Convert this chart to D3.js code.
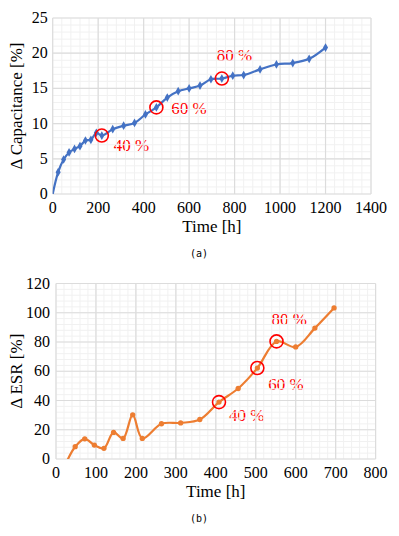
<!DOCTYPE html>
<meta charset="utf-8">
<body style="margin:0">
<script src="https://cdn.jsdelivr.net/npm/d3@7"></script>
<script>

// (a) capacitance change over time
var capTime = [0, 24, 48, 72, 96, 120, 144, 168, 192, 216, 264, 312, 360, 408, 456, 504, 552, 600, 648, 696, 744, 792, 840, 912, 984, 1056, 1128, 1200];
var capValue = [0, 3.1, 4.9, 5.9, 6.4, 6.8, 7.6, 7.7, 8.7, 8.3, 9.2, 9.7, 10.1, 11.3, 12.3, 13.7, 14.6, 15.0, 15.4, 16.3, 16.4, 16.8, 16.9, 17.7, 18.4, 18.6, 19.2, 20.8];
var capMarks = [{t: 216, label: "40 %"}, {t: 456, label: "60 %"}, {t: 744, label: "80 %"}];

// (b) ESR change over time
var esrTime = [24, 48, 72, 96, 120, 144, 168, 192, 216, 264, 312, 360, 408, 456, 504, 552, 600, 648, 696];
var esrValue = [-3.5, 8.4, 13.8, 9.5, 7.3, 18.2, 14.1, 30.2, 14.1, 24.1, 24.7, 27.0, 38.9, 48.2, 62.2, 80.4, 76.6, 89.5, 103.3];
var esrMarks = [{t: 408, label: "40 %"}, {t: 504, label: "60 %"}, {t: 552, label: "80 %"}];

var svg = d3.select("body")
  .append("svg")
    .attr("width", 399)
    .attr("height", 536);

// text layer first, marks layer after
var textLayer = svg.append("g");
var markLayer = svg.append("g");

function drawPanel(opt) {
  var x = d3.scaleLinear().domain(opt.xDomain).range(opt.xRange);
  var y = d3.scaleLinear().domain(opt.yDomain).range(opt.yRange);
  var xTicks = d3.range(opt.xDomain[0], opt.xDomain[1] + 0.001, opt.xStep);
  var yTicks = d3.range(opt.yDomain[0], opt.yDomain[1] + 0.001, opt.yStep);

  // tick labels
  textLayer.selectAll(null).data(xTicks).enter().append("text")
    .attr("x", d => x(d)).attr("y", y.range()[0] + 19)
    .attr("text-anchor", "middle")
    .style("font-family", "Liberation Serif").style("font-size", "16px")
    .text(d => d);
  textLayer.selectAll(null).data(yTicks).enter().append("text")
    .attr("x", x.range()[0] - opt.yPad).attr("y", d => y(d) + 5)
    .attr("text-anchor", "end")
    .style("font-family", "Liberation Serif").style("font-size", "16px")
    .text(d => d);

  // axis titles
  textLayer.append("text")
    .attr("text-anchor", "middle")
    .attr("x", (x.range()[0] + x.range()[1]) / 2)
    .attr("y", y.range()[0] + 38)
    .style("font-family", "Liberation Serif").style("font-size", "17px")
    .text("Time [h]");
  textLayer.append("text")
    .attr("text-anchor", "middle")
    .attr("transform", "translate(22," + (y.range()[0] + y.range()[1]) / 2 + ") rotate(-90)")
    .style("font-family", "Liberation Serif").style("font-size", "17px")
    .text(opt.yTitle);

  // caption
  textLayer.append("text")
    .attr("text-anchor", "middle")
    .attr("x", 199)
    .attr("y", y.range()[0] + 63)
    .style("font-family", "DejaVu Sans Mono").style("font-size", "10px")
    .text(opt.caption);

  // percentage labels
  opt.marks.forEach(function(m, i) {
    var v = opt.value[opt.time.indexOf(m.t)];
    textLayer.append("text")
      .attr("x", x(m.t) + opt.labelOffsets[i][0])
      .attr("y", y(v) + opt.labelOffsets[i][1])
      .style("font-family", "Liberation Serif").style("font-size", "17px")
      .style("fill", "#ff0000")
      .text(m.label);
  });

  var g = markLayer.append("g");

  // minor grid
  var xMinor = d3.range(opt.xDomain[0], opt.xDomain[1] + 0.001, opt.xStep / 5);
  var yMinor = d3.range(opt.yDomain[0], opt.yDomain[1] + 0.001, opt.yStep / 5);
  g.selectAll(null).data(xMinor).enter().append("line")
    .attr("x1", d => x(d)).attr("x2", d => x(d))
    .attr("y1", y.range()[0]).attr("y2", y.range()[1])
    .attr("stroke", "#f1f1f1");
  g.selectAll(null).data(yMinor).enter().append("line")
    .attr("y1", d => y(d)).attr("y2", d => y(d))
    .attr("x1", x.range()[0]).attr("x2", x.range()[1])
    .attr("stroke", "#f1f1f1");

  // major grid
  g.selectAll(null).data(xTicks).enter().append("line")
    .attr("x1", d => x(d)).attr("x2", d => x(d))
    .attr("y1", y.range()[0]).attr("y2", y.range()[1])
    .attr("stroke", "#dcdcdc").attr("stroke-width", 1.2);
  g.selectAll(null).data(yTicks).enter().append("line")
    .attr("y1", d => y(d)).attr("y2", d => y(d))
    .attr("x1", x.range()[0]).attr("x2", x.range()[1])
    .attr("stroke", "#dcdcdc").attr("stroke-width", 1.2);

  // series, clipped by a nested svg viewport
  var plot = g.append("svg")
    .attr("x", x.range()[0]).attr("y", y.range()[1])
    .attr("width", x.range()[1] - x.range()[0])
    .attr("height", y.range()[0] - y.range()[1])
    .attr("viewBox", [x.range()[0], y.range()[1], x.range()[1] - x.range()[0], y.range()[0] - y.range()[1]].join(" "))
    .attr("overflow", "hidden");

  var pts = opt.time.map((t, i) => ({t: t, v: opt.value[i]}));
  var line = d3.line()
    .x(d => x(d.t)).y(d => y(d.v))
    .curve(d3.curveCatmullRom.alpha(0.5));
  plot.append("path")
    .datum(pts)
    .attr("d", line)
    .attr("fill", "none")
    .attr("stroke", opt.color)
    .attr("stroke-width", 2.2);

  var shown = pts.filter(d => d.v >= 0 && d.t > 0);
  plot.selectAll(null).data(shown).enter().append("path")
    .attr("transform", d => "translate(" + x(d.t) + "," + y(d.v) + ")")
    .attr("d", d3.symbol().type(opt.symbol).size(opt.symbolSize))
    .attr("fill", opt.color);

  // highlighted points
  opt.marks.forEach(function(m) {
    var v = opt.value[opt.time.indexOf(m.t)];
    g.append("circle")
      .attr("cx", x(m.t)).attr("cy", y(v)).attr("r", 6.5)
      .attr("fill", "none").attr("stroke", "#ff0000").attr("stroke-width", 1.6);
  });
}

drawPanel({
  xDomain: [0, 1400], xRange: [52.7, 371], xStep: 200,
  yDomain: [0, 25], yRange: [194, 18], yStep: 5, yPad: 5,
  yTitle: "\u0394 Capacitance [%]", caption: "(a)",
  time: capTime, value: capValue, color: "#4472c4",
  symbol: d3.symbolDiamond, symbolSize: 22,
  marks: capMarks,
  labelOffsets: [[12, 15], [15, 7], [-5, -18]]
});

drawPanel({
  xDomain: [0, 800], xRange: [56, 375.6], xStep: 100,
  yDomain: [0, 120], yRange: [459, 283.5], yStep: 20, yPad: 6,
  yTitle: "\u0394 ESR [%]", caption: "(b)",
  time: esrTime, value: esrValue, color: "#ed7d31",
  symbol: d3.symbolCircle, symbolSize: 22,
  marks: esrMarks,
  labelOffsets: [[10, 19], [11, 22], [-5, -16]]
});

</script>
</body>
